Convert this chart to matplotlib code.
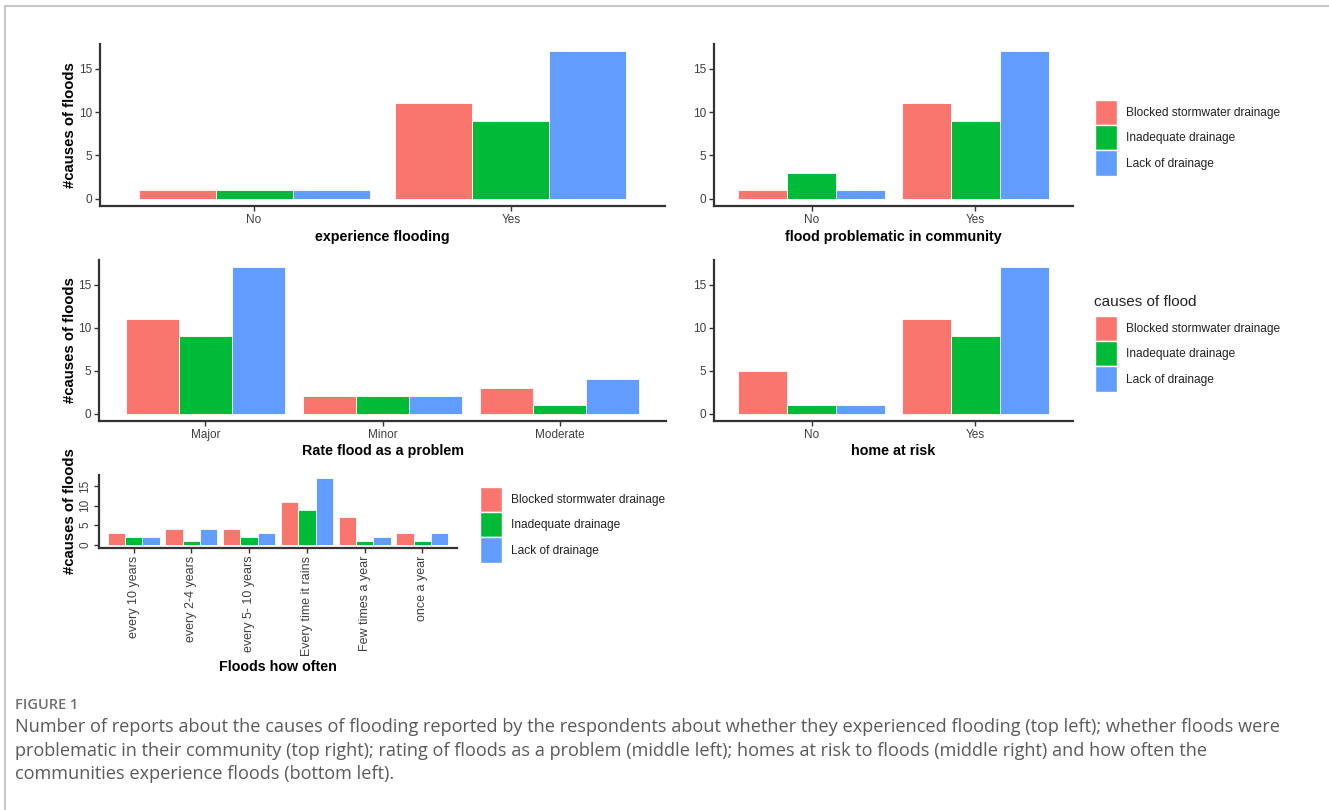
# Flood causes figure: five grouped bar panels + caption
import numpy as np
import matplotlib.pyplot as plt
from matplotlib.patches import Patch
from matplotlib.lines import Line2D

causes = ["Blocked stormwater drainage", "Inadequate drainage", "Lack of drainage"]
colors = ["#F8766D", "#00BA38", "#619CFF"]

exp_cats = ["No", "Yes"]
exp_blocked = [1, 11]
exp_inadequate = [1, 9]
exp_lack = [1, 17]

comm_cats = ["No", "Yes"]
comm_blocked = [1, 11]
comm_inadequate = [3, 9]
comm_lack = [1, 17]

rate_cats = ["Major", "Minor", "Moderate"]
rate_blocked = [11, 2, 3]
rate_inadequate = [9, 2, 1]
rate_lack = [17, 2, 4]

risk_cats = ["No", "Yes"]
risk_blocked = [5, 11]
risk_inadequate = [1, 9]
risk_lack = [1, 17]

often_cats = ["every 10 years", "every 2-4 years", "every 5- 10 years",
              "Every time it rains", "Few times a year", "once a year"]
often_blocked = [3, 4, 4, 11, 7, 3]
often_inadequate = [2, 1, 2, 9, 1, 1]
often_lack = [2, 4, 3, 17, 2, 3]

y_ticks = [0, 5, 10, 15]

caption_head = "FIGURE 1"
caption_lines = [
    "Number of reports about the causes of flooding reported by the respondents about whether they experienced flooding (top left); whether floods were",
    "problematic in their community (top right); rating of floods as a problem (middle left); homes at risk to floods (middle right) and how often the",
    "communities experience floods (bottom left).",
]

FONT = ["Liberation Sans", "DejaVu Sans"]

W, H = 1329, 810
fig = plt.figure(figsize=(W / 100, H / 100), dpi=100)


def box(l, t, r, b):
    return [l / W, 1 - b / H, (r - l) / W, (b - t) / H]


def panel(rect, cats, blocked, inadequate, lack, xlabel, xlab_y, ylabel=True, vertical=False):
    l, t, r, b = rect
    ax = fig.add_axes(box(l, t, r, b))
    x = np.arange(len(cats))
    for i, vals in enumerate([blocked, inadequate, lack]):
        ax.bar(x + (i - 1) * 0.3, vals, 0.3, color=colors[i], edgecolor="white", linewidth=0.6)
    ax.set_xlim(-0.6, len(cats) - 0.4)
    ax.set_ylim(-0.85, 17.85)
    ax.set_xticks(x)
    ax.set_yticks(y_ticks)
    for s in ["top", "right"]:
        ax.spines[s].set_visible(False)
    for s in ["left", "bottom"]:
        ax.spines[s].set_linewidth(1.6)
        ax.spines[s].set_color("#333333")
    ax.tick_params(length=3.5, width=1, color="#333333", labelcolor="#404040", pad=2)
    if vertical:
        ax.set_xticklabels(cats, rotation=90, family=FONT, fontsize=9)
        ax.set_yticklabels([str(v) for v in y_ticks], rotation=90, va="center", family=FONT, fontsize=8.5)
    else:
        ax.set_xticklabels(cats, family=FONT, fontsize=8.5)
        ax.set_yticklabels([str(v) for v in y_ticks], family=FONT, fontsize=8.5)
    ax.set_xlabel(xlabel, family=FONT, fontweight="bold", fontsize=10.3, color="black")
    ax.xaxis.label.set_va("center")
    ax.xaxis.set_label_coords(0.5, -(xlab_y - b) / (b - t))
    if ylabel:
        ax.set_ylabel("#causes of floods", family=FONT, fontweight="bold", fontsize=10.7, color="black")
        ax.yaxis.set_label_coords(-(l - 77) / (r - l), 0.5)
    return ax


def legend(x, y):
    handles = [Patch(facecolor=c, edgecolor="white", linewidth=1.0) for c in colors]
    leg = fig.legend(handles, causes, loc="upper left", bbox_to_anchor=(x / W, 1 - y / H),
                     frameon=False, borderpad=0, borderaxespad=0, handlelength=1.82,
                     handleheight=2.87, labelspacing=0, handletextpad=0.75,
                     prop={"family": FONT, "size": 8.6})
    for txt in leg.get_texts():
        txt.set_color("#222222")
    return leg


panel((100, 44, 665, 206), exp_cats, exp_blocked, exp_inadequate, exp_lack,
      "experience flooding", 237)
panel((714, 44, 1073, 206), comm_cats, comm_blocked, comm_inadequate, comm_lack,
      "flood problematic in community", 237, ylabel=False)
panel((99, 260, 666, 421), rate_cats, rate_blocked, rate_inadequate, rate_lack,
      "Rate flood as a problem", 451)
panel((714, 260, 1073, 421), risk_cats, risk_blocked, risk_inadequate, risk_lack,
      "home at risk", 451, ylabel=False)
panel((99, 475, 457, 548), often_cats, often_blocked, often_inadequate, often_lack,
      "Floods how often", 667, vertical=True)

legend(1095, 100)
legend(1095, 316)
fig.text(1094 / W, 1 - 302 / H, "causes of flood", va="center", ha="left",
         family=FONT, fontsize=11, color="#222222")
legend(480, 487)

# page frame lines
fig.add_artist(Line2D([5 / W, 5 / W], [0, 1 - 6 / H], color="#c8c8c8", lw=1.5, transform=fig.transFigure))
fig.add_artist(Line2D([5 / W, 1], [1 - 6 / H, 1 - 6 / H], color="#c8c8c8", lw=1.5, transform=fig.transFigure))

fig.text(15 / W, 1 - 705 / H, caption_head, va="center", ha="left", family="Open Sans",
         fontweight="semibold", fontsize=10.5, color="#707070")
for i, line in enumerate(caption_lines):
    fig.text(15 / W, 1 - (727 + 23.5 * i) / H, line, va="center", ha="left",
             family="Open Sans", fontsize=13.1, color="#5a5a5a")

fig.savefig("out.png", dpi=100)
